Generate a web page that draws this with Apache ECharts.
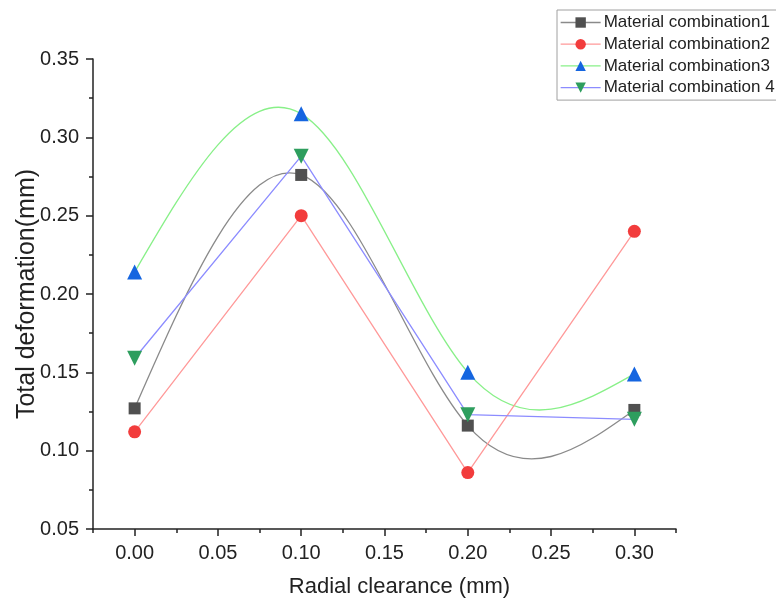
<!DOCTYPE html>
<html>
<head>
<meta charset="utf-8">
<script src="https://cdn.jsdelivr.net/npm/echarts@6/dist/echarts.min.js"></script>
<style>html,body{margin:0;padding:0;background:#fff}#c{width:776px;height:603px}</style>
</head>
<body>
<div id="c"></div>
<script>
const xValues = [0.00, 0.10, 0.20, 0.30];
const combo1 = [0.127, 0.276, 0.116, 0.126];
const combo2 = [0.112, 0.250, 0.086, 0.240];
const combo3 = [0.214, 0.315, 0.150, 0.149];
const combo4 = [0.159, 0.288, 0.123, 0.120];
const seriesNames = ['Material combination1', 'Material combination2', 'Material combination3', 'Material combination 4'];
const xTickValues = [0.00, 0.05, 0.10, 0.15, 0.20, 0.25, 0.30];

const pairs = arr => xValues.map((x, i) => [x, arr[i]]);
const font = 'Liberation Sans, Arial, sans-serif';

// natural cubic spline: second derivatives at the knots (Thomas algorithm)
function splineM(xs, ys) {
  const n = xs.length, M = new Array(n).fill(0);
  if (n < 3) return M;
  const a = [], b = [], c = [], d = [];
  for (let i = 1; i < n - 1; i++) {
    const h0 = xs[i] - xs[i - 1], h1 = xs[i + 1] - xs[i];
    a.push(h0); b.push(2 * (h0 + h1)); c.push(h1);
    d.push(6 * ((ys[i + 1] - ys[i]) / h1 - (ys[i] - ys[i - 1]) / h0));
  }
  const m = b.length;
  for (let i = 1; i < m; i++) {
    const w = a[i] / b[i - 1];
    b[i] -= w * c[i - 1]; d[i] -= w * d[i - 1];
  }
  const sol = new Array(m);
  sol[m - 1] = d[m - 1] / b[m - 1];
  for (let i = m - 2; i >= 0; i--) sol[i] = (d[i] - c[i] * sol[i + 1]) / b[i];
  for (let i = 0; i < m; i++) M[i + 1] = sol[i];
  return M;
}

// draws the spline through a series' own data points as exact cubic Bezier pieces
function splineSeries(ys, color) {
  const M = splineM(xValues, ys);
  return {
    type: 'custom', silent: true, z: 2, clip: false,
    data: pairs(ys),
    renderItem: function (params, api) {
      const i = params.dataIndex;
      if (i >= xValues.length - 1) return null;
      const x0 = xValues[i], x1 = xValues[i + 1], y0 = ys[i], y1 = ys[i + 1];
      const h = x1 - x0;
      const s0 = (y1 - y0) / h - h * (2 * M[i] + M[i + 1]) / 6;
      const s1 = (y1 - y0) / h + h * (M[i] + 2 * M[i + 1]) / 6;
      const p0 = api.coord([x0, y0]);
      const p1 = api.coord([x1, y1]);
      const c0 = api.coord([x0 + h / 3, y0 + s0 * h / 3]);
      const c1 = api.coord([x1 - h / 3, y1 - s1 * h / 3]);
      return {
        type: 'bezierCurve',
        shape: {x1: p0[0], y1: p0[1], x2: p1[0], y2: p1[1], cpx1: c0[0], cpy1: c0[1], cpx2: c1[0], cpy2: c1[1]},
        style: {stroke: color, lineWidth: 1.3, fill: null}
      };
    }
  };
}

const lineColors = ['#8a8a8a', '#ff9999', '#88f088', '#8c8cff'];
const markColors = ['#505050', '#f23c3c', '#1565e0', '#2e9e5e'];

const chart = echarts.init(document.getElementById('c'));
function mk(idx, data, symbol, size, rotate, smooth, hideLine) {
  return {
    name: seriesNames[idx], type: 'line', data: pairs(data), smooth: smooth,
    symbol: symbol, symbolSize: size, symbolRotate: rotate || 0, showSymbol: true,
    lineStyle: {color: lineColors[idx], width: 1.3, opacity: hideLine ? 0 : 1},
    itemStyle: {color: markColors[idx]},
    emphasis: {disabled: true}, z: 3
  };
}
chart.setOption({
  animation: false,
  backgroundColor: '#fff',
  grid: {left: 93, right: 100, top: 59, bottom: 74, containLabel: false, outerBoundsMode: 'none'},
  legend: {
    orient: 'vertical', left: 557, top: 10,
    itemWidth: 40, itemHeight: 13, itemGap: 4.7,
    padding: [4, 30, 4, 3],
    borderColor: '#a0a0a0', borderWidth: 1,
    textStyle: {fontFamily: font, fontSize: 17, color: '#222', padding: [0, 0, 0, -2]},
    data: seriesNames.map((n, i) => ({name: n, lineStyle: {color: lineColors[i], width: 1.3, opacity: 1}}))
  },
  xAxis: [{
    type: 'value', min: -0.025, max: 0.325,
    name: 'Radial clearance (mm)', nameLocation: 'middle', nameGap: 47, nameMoveOverlap: false,
    nameTextStyle: {fontFamily: font, fontSize: 22, color: '#222', padding: [0, 0, 0, 30]},
    axisLine: {show: true, onZero: false, lineStyle: {color: '#222', width: 1.5}},
    axisTick: {show: true, length: 7, customValues: xTickValues, lineStyle: {color: '#222', width: 1.5}},
    axisLabel: {fontFamily: font, fontSize: 20, color: '#222', margin: 14, customValues: xTickValues,
      formatter: v => v.toFixed(2)},
    splitLine: {show: false}
  }, {
    type: 'value', min: -0.025, max: 0.325, interval: 0.025, position: 'bottom',
    axisLine: {show: false},
    axisTick: {show: true, length: 4, lineStyle: {color: '#222', width: 1.5}},
    axisLabel: {show: false}, splitLine: {show: false}
  }],
  yAxis: {
    type: 'value', min: 0.05, max: 0.35, interval: 0.05,
    name: 'Total deformation(mm)', nameLocation: 'middle', nameGap: 53, nameRotate: 90, nameMoveOverlap: false,
    nameTextStyle: {fontFamily: font, fontSize: 25, color: '#222'},
    axisLine: {show: true, onZero: false, lineStyle: {color: '#222', width: 1.5}},
    axisTick: {show: true, length: 7, lineStyle: {color: '#222', width: 1.5}},
    minorTick: {show: true, splitNumber: 2, length: 4, lineStyle: {color: '#222', width: 1.5}},
    axisLabel: {fontFamily: font, fontSize: 20, color: '#222', margin: 14, formatter: v => v.toFixed(2)},
    splitLine: {show: false}
  },
  series: [
    splineSeries(combo1, lineColors[0]),
    splineSeries(combo3, lineColors[2]),
    mk(0, combo1, 'rect', 12, 0, false, true),
    mk(1, combo2, 'circle', 13, 0, false, false),
    mk(2, combo3, 'triangle', 15, 0, false, true),
    mk(3, combo4, 'triangle', 15, 180, false, false)
  ]
});
</script>
</body>
</html>
